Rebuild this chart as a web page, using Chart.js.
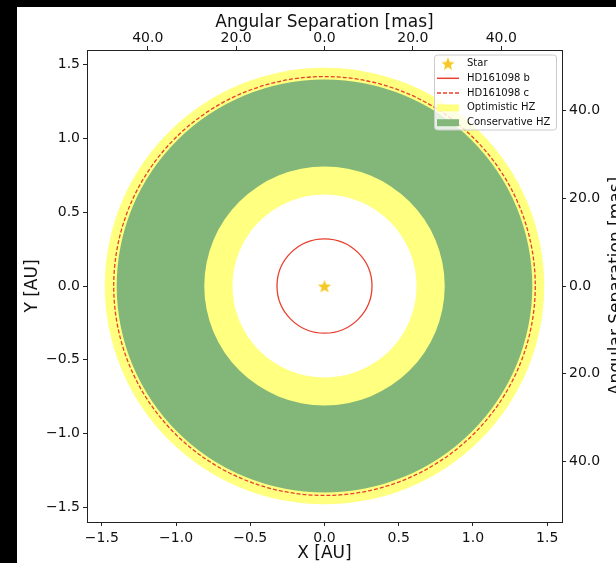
<!DOCTYPE html>
<html>
<head>
<meta charset="utf-8">
<script src="https://cdn.jsdelivr.net/npm/chart.js@4.4.0/dist/chart.umd.min.js"></script>
<style>
  html, body { margin: 0; padding: 0; background: #000; }
  #wrap { position: absolute; left: 17px; top: 7px; width: 599px; height: 556px; background: #fff; overflow: hidden; }
</style>
</head>
<body>
<div id="wrap"><canvas id="hzChart" width="599" height="556"></canvas></div>
<script>
// positions and radii in AU
const starPos = [0, 0];
const orbitNames = ['HD161098 b', 'HD161098 c'];
const orbitRadii = [0.32, 1.42];
const optimisticHZ = [0.62, 1.48];
const conservativeHZ = [0.81, 1.40];
const auTicks = [-1.5, -1.0, -0.5, 0.0, 0.5, 1.0, 1.5];
const masTicks = [-40, -20, 0, 20, 40];
const masPerAU = 33.6;
const axisLimit = 1.6;
const legendLabels = ['Star', orbitNames[0], orbitNames[1], 'Optimistic HZ', 'Conservative HZ'];

const FONT = "'DejaVu Sans', sans-serif";
const RED = '#e8402e';
const YELLOW = '#ffff80';
const GREEN = '#82b779';
const GOLD = '#f5c823';
const INK = '#111';
const orbitDash = [[], [4, 2]];

Chart.defaults.font.family = FONT;
Chart.defaults.color = INK;

// filled 5 point star used as marker
function makeStar(size) {
    const c = document.createElement('canvas');
    c.width = size;
    c.height = size;
    const g = c.getContext('2d');
    const R = size / 2, r = R * 0.42;
    g.beginPath();
    for (let i = 0; i < 10; i++) {
        const rad = i % 2 ? r : R;
        const a = -Math.PI / 2 + i * Math.PI / 5;
        g.lineTo(R + rad * Math.cos(a), R + 0.8 + rad * Math.sin(a));
    }
    g.closePath();
    g.fillStyle = GOLD;
    g.fill();
    return c;
}
const starImg = makeStar(14);

const fmtAU = v => v.toFixed(1).replace('-', '\u2212');
const fmtMas = v => Math.abs(v).toFixed(1);

// habitable zones + orbits, scaled through the x/y axes
const zonePlugin = {
    id: 'zones',
    beforeDatasetsDraw(chart) {
        const { ctx, scales: { x, y } } = chart;
        const cx = x.getPixelForValue(starPos[0]);
        const cy = y.getPixelForValue(starPos[1]);
        const rx = r => Math.abs(x.getPixelForValue(starPos[0] + r) - cx);
        const ry = r => Math.abs(y.getPixelForValue(starPos[1] + r) - cy);

        function ring(inner, outer, color) {
            ctx.beginPath();
            ctx.ellipse(cx, cy, rx(outer), ry(outer), 0, 0, Math.PI * 2);
            ctx.moveTo(cx + rx(inner), cy);
            ctx.ellipse(cx, cy, rx(inner), ry(inner), 0, Math.PI * 2, 0, true);
            ctx.fillStyle = color;
            ctx.fill();
        }

        ctx.save();
        ring(optimisticHZ[0], optimisticHZ[1], YELLOW);
        ring(conservativeHZ[0], conservativeHZ[1], GREEN);
        orbitRadii.forEach((r, i) => {
            ctx.beginPath();
            ctx.ellipse(cx, cy, rx(r), ry(r), 0, 0, Math.PI * 2);
            ctx.setLineDash(orbitDash[i]);
            ctx.strokeStyle = RED;
            ctx.lineWidth = 1.3;
            ctx.stroke();
        });
        ctx.restore();
    }
};

// matplotlib style legend box + right axis title (reads bottom to top)
const legendPlugin = {
    id: 'hzLegend',
    afterDraw(chart) {
        const { ctx, chartArea } = chart;
        const w = 122, h = 75;
        const left = chartArea.right - 6 - w;
        const top = chartArea.top + 4.5;

        ctx.save();
        ctx.beginPath();
        ctx.roundRect(left + 0.5, top + 0.5, w, h, 3);
        ctx.fillStyle = 'rgba(255,255,255,0.8)';
        ctx.fill();
        ctx.strokeStyle = '#cccccc';
        ctx.lineWidth = 1;
        ctx.stroke();

        legendLabels.forEach((label, i) => {
            const yy = top + 9 + i * 14.8;
            const hx = left + 3, hw = 22;
            if (i === 0) {
                ctx.drawImage(starImg, hx + hw / 2 - 7, yy - 7);
            } else if (i <= 2) {
                ctx.beginPath();
                ctx.setLineDash(orbitDash[i - 1]);
                ctx.moveTo(hx, yy);
                ctx.lineTo(hx + hw, yy);
                ctx.strokeStyle = RED;
                ctx.lineWidth = 1.5;
                ctx.stroke();
                ctx.setLineDash([]);
            } else {
                ctx.fillStyle = i === 3 ? YELLOW : GREEN;
                ctx.fillRect(hx, yy - 3.5, hw, 7);
            }
            ctx.fillStyle = INK;
            ctx.font = '10px ' + FONT;
            ctx.textAlign = 'left';
            ctx.textBaseline = 'middle';
            ctx.fillText(label, left + 33, yy);
        });

        const y2 = chart.scales.y2;
        ctx.translate(y2.right + 1, (chartArea.top + chartArea.bottom) / 2);
        ctx.rotate(-Math.PI / 2);
        ctx.font = '17px ' + FONT;
        ctx.textAlign = 'center';
        ctx.textBaseline = 'middle';
        ctx.fillText('Angular Separation [mas]', 0, 0);
        ctx.restore();
    }
};

function axis(position, limit, ticks, fmt, size, pad, title, titlePad) {
    const horizontal = position === 'top' || position === 'bottom';
    return {
        type: 'linear',
        position: position,
        min: -limit,
        max: limit,
        afterBuildTicks: s => { s.ticks = ticks.map(v => ({ value: v })); },
        afterFit: s => { if (horizontal) s.height = size; else s.width = size; },
        grid: { display: true, drawOnChartArea: false, drawTicks: true, tickLength: 4, tickColor: '#222', tickWidth: 1 },
        border: { display: true, color: '#222', width: 1 },
        ticks: { font: { size: 14 }, color: INK, padding: pad, callback: fmt, maxRotation: 0, minRotation: 0, autoSkip: false },
        title: title
            ? { display: true, text: title, font: { size: 17, lineHeight: 1.1 }, color: INK, padding: titlePad }
            : { display: false }
    };
}

const ctxHZ = document.getElementById('hzChart').getContext('2d');
const hzChart = new Chart(ctxHZ, {
    type: 'scatter',
    data: {
        datasets: [{
            label: legendLabels[0],
            data: [{ x: starPos[0], y: starPos[1] }],
            pointStyle: starImg,
            pointRadius: 7
        }]
    },
    options: {
        responsive: false,
        animation: false,
        events: [],
        layout: { padding: 0 },
        plugins: {
            legend: { display: false },
            tooltip: { enabled: false }
        },
        scales: {
            x: axis('bottom', axisLimit, auTicks, fmtAU, 41, 4, 'X [AU]', { top: 0, bottom: 0 }),
            y: axis('left', axisLimit, auTicks, fmtAU, 70, 3, 'Y [AU]', { top: 6, bottom: 0 }),
            x2: axis('top', axisLimit * masPerAU, masTicks, fmtMas, 43, -1, 'Angular Separation [mas]', { top: 6, bottom: 0 }),
            y2: axis('right', axisLimit * masPerAU, masTicks, fmtMas, 54, 3, null)
        }
    },
    plugins: [zonePlugin, legendPlugin]
});
</script>
</body>
</html>
